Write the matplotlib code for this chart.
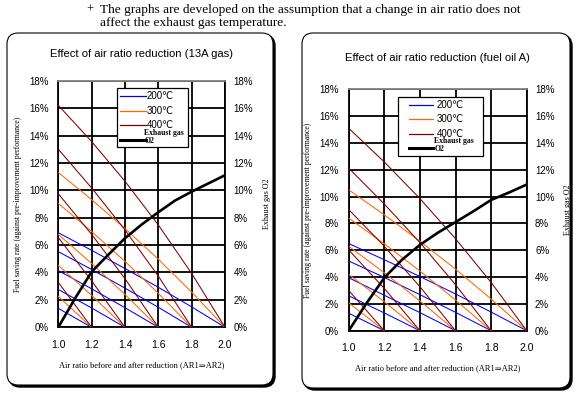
import matplotlib.pyplot as plt
from matplotlib.patches import FancyBboxPatch, Rectangle
from matplotlib.transforms import IdentityTransform

# air ratio after reduction (AR2) read at the grid lines
ar2_points = [1.0, 1.2, 1.4, 1.6, 1.8, 2.0]
# air ratio before reduction (AR1), one curve each
ar1_values = [2.0, 1.8, 1.6, 1.4, 1.2]

# fuel saving rate (%) - 13A gas, one list per AR1 (AR2 = 1.0, 1.2, ... AR1)
gas_200 = [[6.9, 5.62, 4.29, 2.92, 1.49, 0], [5.52, 4.22, 2.86, 1.46, 0],
           [4.14, 2.81, 1.43, 0], [2.76, 1.41, 0], [1.38, 0]]
gas_300 = [[11.3, 9.32, 7.21, 4.97, 2.57, 0], [9.04, 6.99, 4.81, 2.48, 0],
           [6.78, 4.66, 2.4, 0], [4.52, 2.33, 0], [2.26, 0]]
gas_400 = [[16.2, 13.56, 10.66, 7.47, 3.93, 0], [13.0, 10.17, 7.11, 3.73, 0],
           [9.75, 6.78, 3.55, 0], [6.55, 3.39, 0], [3.28, 0]]

# fuel saving rate (%) - fuel oil A
oil_200 = [[6.5, 5.29, 4.04, 2.74, 1.39, 0], [5.2, 3.97, 2.69, 1.37, 0],
           [3.95, 2.64, 1.35, 0], [2.6, 1.32, 0], [1.3, 0]]
oil_300 = [[10.5, 8.64, 6.67, 4.59, 2.36, 0], [8.4, 6.48, 4.45, 2.29, 0],
           [6.3, 4.32, 2.22, 0], [4.2, 2.16, 0], [2.08, 0]]
oil_400 = [[15.1, 12.58, 9.85, 6.86, 3.6, 0], [12.12, 9.44, 6.57, 3.43, 0],
           [9.03, 6.29, 3.28, 0], [6.02, 3.15, 0], [3.0, 0]]

# exhaust gas O2 (%)
o2_ratio = [1.0, 1.1, 1.2, 1.3, 1.4, 1.5, 1.6, 1.7, 1.8, 1.9, 2.0]
gas_o2 = [0, 2.1, 4.05, 5.3, 6.5, 7.5, 8.4, 9.25, 9.9, 10.5, 11.1]
oil_o2 = [0, 2.05, 3.95, 5.3, 6.4, 7.3, 8.1, 8.9, 9.75, 10.3, 10.9]

xticks = [1.0, 1.2, 1.4, 1.6, 1.8, 2.0]
yticks = list(range(0, 19, 2))

temp_labels = ["200℃", "300℃", "400℃"]
colors = ["#0000ff", "#ff6600", "#800000"]

SANS = ["Liberation Sans", "DejaVu Sans", "Noto Sans CJK JP"]
SERIF = ["Liberation Serif", "DejaVu Serif", "DejaVu Sans"]

FIG_W, FIG_H = 579, 396
fig = plt.figure(figsize=(FIG_W / 100, FIG_H / 100), dpi=100)


def panel(x0, y0, w, h):
    # rounded box with a dark shadow on the right / bottom
    shadow = FancyBboxPatch((x0 + 2, y0 - 2), w, h,
                            boxstyle="round,pad=0,rounding_size=11",
                            transform=IdentityTransform(), facecolor="black",
                            edgecolor="black", lw=1, zorder=-3)
    box = FancyBboxPatch((x0, y0), w, h,
                         boxstyle="round,pad=0,rounding_size=11",
                         transform=IdentityTransform(), facecolor="white",
                         edgecolor="black", lw=0.8, zorder=-2)
    fig.patches.extend([shadow, box])


def legend_box(ax, rect, left, top, width, line_x0, line_x1, text_x):
    # hand made legend, sizes in pixels from the top-left of the axes
    W = rect[2] * FIG_W
    H = rect[3] * FIG_H

    def fx(px):
        return (left + px) / W

    def fy(py):
        return 1 - (top + py) / H

    tr = ax.transAxes
    ax.add_patch(Rectangle((fx(0), fy(59)), width / W, 59 / H, transform=tr,
                           facecolor="white", edgecolor="black", lw=0.9,
                           clip_on=False, zorder=10))
    for row_y, c, lab in zip([8, 22.7, 37], colors, temp_labels):
        ax.plot([fx(line_x0), fx(line_x1)], [fy(row_y)] * 2, color=c, lw=0.9,
                transform=tr, clip_on=False, zorder=11)
        ax.text(fx(text_x), fy(row_y), lab, transform=tr, va="center",
                fontfamily=SANS, fontsize=7, zorder=11)
    ax.plot([fx(line_x0), fx(line_x1)], [fy(51.5)] * 2, color="black", lw=2.2,
            transform=tr, clip_on=False, zorder=11)
    ax.text(fx(text_x - 3), fy(44.5), "Exhaust gas", transform=tr, va="center",
            fontfamily=SERIF, fontsize=5.6, fontweight="bold", zorder=11)
    ax.text(fx(text_x - 2), fy(52.5), "O2", transform=tr, va="center",
            fontfamily=SERIF, fontsize=5.6, fontweight="bold", zorder=11)


def draw_chart(rect, title, title_y, series, o2, leg):
    ax = fig.add_axes(rect)
    ax.patch.set_alpha(0)
    for vals_list, c in zip(series, colors):
        for ar1, vals in zip(ar1_values, vals_list):
            ax.plot(ar2_points[:len(vals)], vals, color=c, lw=0.75, zorder=3)
    ax.plot(o2_ratio, o2, color="black", lw=1.9, zorder=4)

    ax.set_xlim(1.0, 2.0)
    ax.set_ylim(0, 18)
    ax.set_xticks(xticks)
    ax.set_xticklabels([f"{v:.1f}" for v in xticks], fontfamily=SANS, fontsize=7.5)
    ax.set_yticks(yticks)
    ax.set_yticklabels([f"{v}%" for v in yticks], fontfamily=SANS, fontsize=7)
    ax.tick_params(length=0, pad=7)
    ax.tick_params(axis="x", pad=9)
    ax.grid(True, color="black", lw=1.3, zorder=1)
    ax.set_axisbelow(True)
    for s in ["left", "right", "bottom"]:
        ax.spines[s].set_linewidth(1.3)
    ax.spines["top"].set_color("#808080")
    ax.spines["top"].set_linewidth(1.3)

    ax.set_xlabel("Air ratio before and after reduction (AR1⇒AR2)",
                  fontfamily=SERIF, fontsize=6, labelpad=8)
    ax.set_ylabel("Fuel saving rate (against pre-improvement performance)",
                  fontfamily=SERIF, fontsize=5.6, labelpad=5)

    ax2 = ax.twinx()
    ax2.patch.set_alpha(0)
    ax2.set_ylim(0, 18)
    ax2.set_yticks(yticks)
    ax2.set_yticklabels([f"{v}%" for v in yticks], fontfamily=SANS, fontsize=7)
    ax2.tick_params(length=0, pad=6)
    ax2.set_ylabel("Exhaust gas O2", fontfamily=SERIF, fontsize=5.8, labelpad=7)
    for s in ax2.spines.values():
        s.set_visible(False)

    legend_box(ax2, rect, *leg)

    fig.text(rect[0] + rect[2] / 2, title_y, title, ha="center", va="center",
             fontfamily=SANS, fontsize=8.1)
    return ax


panel(7, 11, 266, 352)
panel(302, 8, 268, 355)

draw_chart([0.1007, 0.1735, 0.2879, 0.6227],
           "Effect of air ratio reduction (13A gas)", 1 - 54 / FIG_H,
           [gas_200, gas_300, gas_400], gas_o2,
           (58.7, 7.3, 71, 3, 28.7, 30))
draw_chart([0.6023, 0.1649, 0.3074, 0.6096],
           "Effect of air ratio reduction (fuel oil A)", 1 - 58 / FIG_H,
           [oil_200, oil_300, oil_400], oil_o2,
           (49.3, 7.4, 85, 11, 35, 39))

# note on top
fig.text(86 / FIG_W, 1 - 10 / FIG_H, "+", fontfamily=SERIF, fontsize=9, va="center")
fig.text(100 / FIG_W, 1 - 16.5 / FIG_H,
         "The graphs are developed on the assumption that a change in air ratio does not\n"
         "affect the exhaust gas temperature.",
         fontfamily=SERIF, fontsize=9.6, va="center", linespacing=1.08)

fig.savefig("out.png", dpi=100)
